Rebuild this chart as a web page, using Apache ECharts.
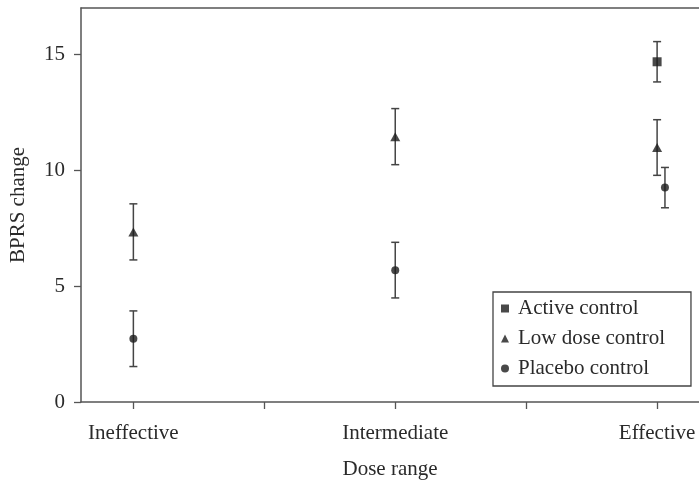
<!DOCTYPE html>
<html>
<head>
<meta charset="utf-8">
<script src="https://cdn.jsdelivr.net/npm/echarts@6/dist/echarts.min.js"></script>
<style>
  html, body { margin: 0; padding: 0; background: #fff; }
  #chart { width: 699px; height: 485px; }
</style>
</head>
<body>
<div id="chart"></div>
<script>
// Dose-range groups on the x axis (placed at 1, 2, 3)
const categories = ['Ineffective', 'Intermediate', 'Effective'];

// Mean BPRS change and half-width of the error bar per group
const activeMean   = [null, null, 14.68];
const activeErr    = [null, null, 0.87];
const lowDoseMean  = [7.34, 11.45, 10.98];
const lowDoseErr   = [1.21, 1.21, 1.2];
const placeboMean  = [2.73, 5.69, 9.25];
const placeboErr   = [1.2, 1.2, 0.87];
// small horizontal dodge so overlapping bars stay readable
const placeboShift = [0, 0, 0.03];

const yTicks = [0, 5, 10, 15];

const FONT = 'Liberation Serif';
const INK = '#1c1c1c';
const TEXT = '#2a2a2a';
const AXIS = '#555';

// x range runs a little past the last group; the frame is open on the right
const X_MIN = 0.8, X_MAX = 3.16;

function points(means, errs, shift) {
  const out = [];
  means.forEach((m, i) => {
    if (m == null) return;
    out.push([i + 1 + (shift ? shift[i] : 0), m, m - errs[i], m + errs[i]]);
  });
  return out;
}

const activePts = points(activeMean, activeErr);
const lowPts = points(lowDoseMean, lowDoseErr);
const placeboPts = points(placeboMean, placeboErr, placeboShift);

function errorBars(data) {
  return {
    type: 'custom',
    silent: true,
    z: 1,
    data: data,
    renderItem: function (params, api) {
      const x = api.value(0);
      const lo = api.coord([x, api.value(2)]);
      const hi = api.coord([x, api.value(3)]);
      const cap = 4;
      const style = { stroke: '#444', lineWidth: 1.5, fill: null };
      return {
        type: 'group',
        children: [
          { type: 'line', shape: { x1: lo[0], y1: lo[1], x2: hi[0], y2: hi[1] }, style: style },
          { type: 'line', shape: { x1: lo[0] - cap, y1: lo[1], x2: lo[0] + cap, y2: lo[1] }, style: style },
          { type: 'line', shape: { x1: hi[0] - cap, y1: hi[1], x2: hi[0] + cap, y2: hi[1] }, style: style }
        ]
      };
    },
    encode: { x: 0, y: 1 }
  };
}

const chart = echarts.init(document.getElementById('chart'), null, { renderer: 'canvas' });

chart.setOption({
  animation: false,
  backgroundColor: '#fff',
  textStyle: { fontFamily: FONT, color: TEXT },
  grid: { left: 80, top: 8, right: 0, bottom: 80 },
  legend: {
    orient: 'vertical',
    left: 493, top: 292,
    padding: [6, 26, 7, 8],
    itemGap: 9,
    itemWidth: 8,
    itemHeight: 8,
    borderColor: '#444',
    borderWidth: 1.3,
    backgroundColor: '#fff',
    textStyle: { fontFamily: FONT, fontSize: 21, color: TEXT, padding: [0, 0, 0, 4] },
    data: [
      { name: 'Active control', icon: 'rect' },
      { name: 'Low dose control', icon: 'triangle' },
      { name: 'Placebo control', icon: 'circle' }
    ]
  },
  xAxis: [
    {
      type: 'value',
      min: X_MIN, max: X_MAX,
      name: 'Dose range',
      nameLocation: 'middle',
      nameGap: 57,
      nameTextStyle: { fontFamily: FONT, fontSize: 21, color: TEXT },
      splitLine: { show: false },
      axisLine: { show: true, lineStyle: { color: AXIS, width: 1.5 } },
      axisTick: { show: true, length: 7, customValues: [1, 1.5, 2, 2.5, 3], lineStyle: { color: AXIS, width: 1.3 } },
      axisLabel: {
        customValues: [1, 2, 3],
        margin: 21,
        fontFamily: FONT, fontSize: 21, color: TEXT,
        formatter: v => categories[Math.round(v) - 1]
      }
    },
    {
      // top frame line
      type: 'value',
      position: 'top',
      min: X_MIN, max: X_MAX,
      splitLine: { show: false },
      axisLine: { show: true, lineStyle: { color: AXIS, width: 1.5 } },
      axisTick: { show: false },
      axisLabel: { show: false }
    }
  ],
  yAxis: {
    type: 'value',
    min: 0, max: 17, interval: 5,
    name: 'BPRS change',
    nameLocation: 'middle',
    nameGap: 52,
    nameTextStyle: { fontFamily: FONT, fontSize: 21, color: TEXT },
    splitLine: { show: false },
    axisLine: { show: true, lineStyle: { color: AXIS, width: 1.5 } },
    axisTick: { show: true, length: 7, customValues: yTicks, lineStyle: { color: AXIS, width: 1.3 } },
    axisLabel: { customValues: yTicks, margin: 16, fontFamily: FONT, fontSize: 21, color: TEXT }
  },
  series: [
    errorBars(activePts),
    errorBars(lowPts),
    errorBars(placeboPts),
    {
      name: 'Active control', type: 'scatter', symbol: 'rect', symbolSize: 9, z: 3,
      itemStyle: { color: INK }, data: activePts.map(p => [p[0], p[1]])
    },
    {
      name: 'Low dose control', type: 'scatter', symbol: 'triangle', symbolSize: [10, 9], z: 3,
      itemStyle: { color: INK }, data: lowPts.map(p => [p[0], p[1]])
    },
    {
      name: 'Placebo control', type: 'scatter', symbol: 'circle', symbolSize: 8, z: 3,
      itemStyle: { color: INK }, data: placeboPts.map(p => [p[0], p[1]])
    }
  ]
});
</script>
</body>
</html>
